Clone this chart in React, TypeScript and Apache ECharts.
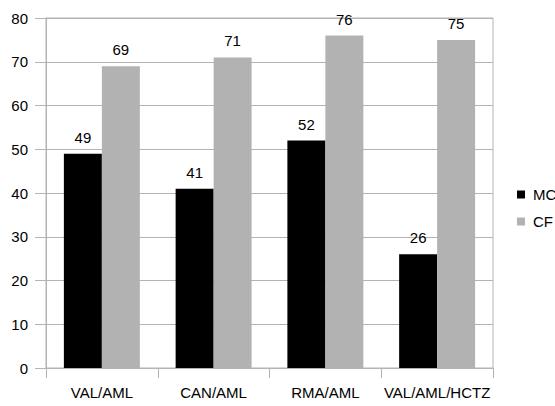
import React, { useEffect, useRef } from "react";
import * as echarts from "echarts";

const categories = ["VAL/AML", "CAN/AML", "RMA/AML", "VAL/AML/HCTZ"];
const mcValues = [49, 41, 52, 26];
const cfValues = [69, 71, 76, 75];
const yTicks = { min: 0, max: 80, interval: 10 };

export default function App() {
  const ref = useRef<HTMLDivElement>(null);
  useEffect(() => {
    if (!ref.current) return;
    const chart = echarts.init(ref.current, undefined, { renderer: "svg" });
    const font = "'Liberation Sans', Arial, sans-serif";
    const lineColor = "#b3b3b3";
    chart.setOption({
      animation: false,
      textStyle: { fontFamily: font },
      grid: {
        left: 46,
        right: 62,
        top: 18,
        bottom: 38,
        show: true,
        borderColor: lineColor,
        borderWidth: 1,
      },
      legend: {
        orient: "vertical",
        left: 512,
        top: 182,
        itemWidth: 8,
        itemHeight: 8,
        itemGap: 12,
        icon: "rect",
        textStyle: { fontFamily: font, fontSize: 15, color: "#000", padding: [0, 0, 0, 3] },
        data: ["MC", "CF"],
      },
      xAxis: {
        type: "category",
        data: categories,
        axisLine: { lineStyle: { color: lineColor } },
        axisTick: { show: true, length: 10, lineStyle: { color: lineColor } },
        axisLabel: { color: "#000", fontSize: 15, margin: 17, fontFamily: font, interval: 0, hideOverlap: false },
      },
      yAxis: {
        type: "value",
        min: yTicks.min,
        max: yTicks.max,
        interval: yTicks.interval,
        axisLine: { show: true, lineStyle: { color: lineColor } },
        axisTick: { show: true, length: 11, lineStyle: { color: lineColor } },
        splitLine: { lineStyle: { color: lineColor } },
        axisLabel: { color: "#000", fontSize: 15, margin: 18, fontFamily: font },
      },
      series: [
        {
          name: "MC",
          type: "bar",
          data: mcValues,
          barGap: "0%",
          barCategoryGap: "32%",
          itemStyle: { color: "#000000" },
          label: { show: true, position: "top", distance: 9, color: "#000", fontSize: 15, fontFamily: font },
        },
        {
          name: "CF",
          type: "bar",
          data: cfValues,
          barGap: "0%",
          barCategoryGap: "32%",
          itemStyle: { color: "#b2b2b2" },
          label: { show: true, position: "top", distance: 9, color: "#000", fontSize: 15, fontFamily: font },
        },
      ],
    });
    return () => chart.dispose();
  }, []);
  return <div ref={ref} style={{ width: 555, height: 406, position: "absolute", left: 0, top: 0 }} />;
}
